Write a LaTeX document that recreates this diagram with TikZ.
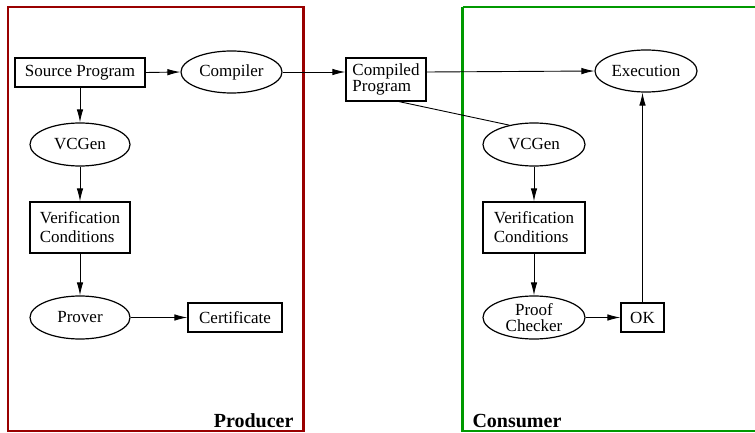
\documentclass[tikz,border=0pt]{standalone}
\usepackage{fontspec}
\setmainfont{Liberation Serif}
\usetikzlibrary{shapes.geometric,arrows.meta}
\definecolor{prodred}{RGB}{153,0,0}
\definecolor{consgreen}{RGB}{0,153,0}
\begin{document}
\begin{tikzpicture}[x=1pt,y=-1pt,
  every node/.style={font=\rmfamily\fontsize{17}{20}\selectfont},
  boxnode/.style={draw,line width=1.2pt,rectangle,inner sep=0pt},
  ovalnode/.style={draw,line width=1.2pt,ellipse,inner sep=0pt},
  flow/.style={line width=0.9pt,-{Latex[length=13pt,width=6.5pt]}},
  plain/.style={line width=0.9pt},
  frame/.style={line width=2.8pt},
  tag/.style={font=\rmfamily\fontsize{20}{22}\selectfont\bfseries,anchor=base}]
\useasboundingbox (0,0) rectangle (755,433);
% party frames
\draw[frame,prodred] (8,7) rectangle (303.5,431);
\draw[frame,consgreen] (462.5,7) -- (760,7);
\draw[frame,consgreen] (462.5,7) -- (462.5,431) -- (760,431);
\node[tag,anchor=base east] (prod) at (297,427) {Producer};
\node[tag,anchor=base west] (cons) at (469,427) {Consumer};
% producer side
\node[boxnode,minimum width=130pt,minimum height=29pt] (src) at (80,72.5) {Source Program};
\node[ovalnode,minimum width=101pt,minimum height=42pt] (comp) at (231.5,72) {Compiler};
\node[ovalnode,minimum width=100pt,minimum height=43pt] (vcg1) at (80,144.5) {VCGen};
\node[boxnode,minimum width=100pt,minimum height=51pt,align=left] (vc1) at (80,227.5) {Verification\\[-1pt]Conditions};
\node[ovalnode,minimum width=100pt,minimum height=43pt] (prov) at (80,317.5) {Prover};
\node[boxnode,minimum width=94pt,minimum height=29pt] (cert) at (235,317.5) {Certificate};
% shipped code
\node[boxnode,minimum width=80pt,minimum height=43pt,align=left,font=\rmfamily\fontsize{17}{14}\selectfont] (cprog) at (386,79.5) {Compiled\\Program};
% consumer side
\node[ovalnode,minimum width=102pt,minimum height=42pt] (exec) at (646,71) {Execution};
\node[ovalnode,minimum width=102pt,minimum height=43pt] (vcg2) at (534,144.5) {VCGen};
\node[boxnode,minimum width=102pt,minimum height=51pt,align=left] (vc2) at (534,227.5) {Verification\\[-1pt]Conditions};
\node[ovalnode,minimum width=102pt,minimum height=43pt,align=center,font=\rmfamily\fontsize{17}{16}\selectfont] (chk) at (534,317.5) {Proof\\Checker};
\node[boxnode,minimum width=43pt,minimum height=29pt] (ok) at (642.5,317.5) {OK};
% connectors
\draw[flow] (src.east) -- (comp.west);
\draw[flow] (comp.east) -- (comp.east -| cprog.west);
\draw[flow] (src.south) -- (vcg1.north);
\draw[flow] (vcg1.south) -- (vc1.north);
\draw[flow] (vc1.south) -- (prov.north);
\draw[flow] (prov.east) -- (cert.west);
\draw[flow] (comp.east -| cprog.east) -- (exec.west);
\draw[plain] ([xshift=13pt]cprog.south) -- (vcg2.142);
\draw[flow] (vcg2.south) -- (vc2.north);
\draw[flow] (vc2.south) -- (chk.north);
\draw[flow] (chk.east) -- (ok.west);
\draw[flow] (ok.north) -- (ok.north |- exec.south);
\end{tikzpicture}
\end{document}
